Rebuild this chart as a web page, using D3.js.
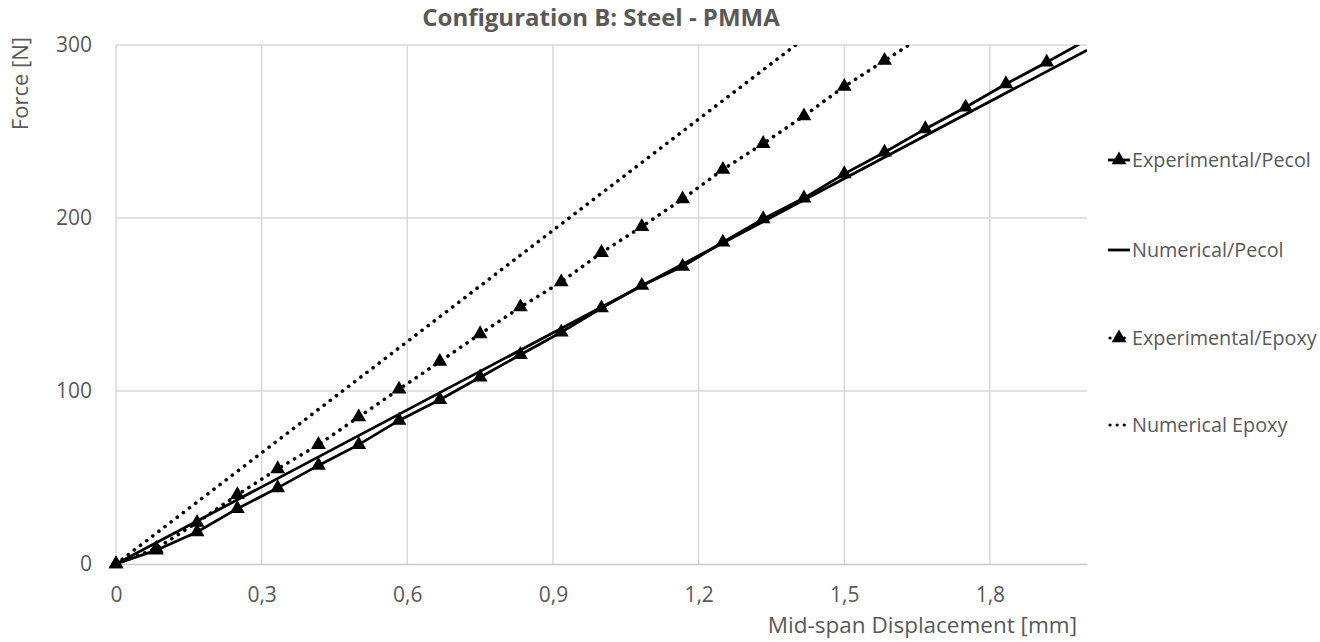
<!DOCTYPE html>
<html>
<head>
	<meta charset="utf-8">
	<script src="https://d3js.org/d3.v7.min.js"></script>
	<style>
		body { margin: 0; background: #fff; }
		text { font-family: "Open Sans", sans-serif; fill: #595959; }
	</style>
</head>
<body>
<div id="graph"></div>
<script>

// displacement steps of the experimental readings [mm]
var xExpPecol = [0, 0.083, 0.167, 0.25, 0.333, 0.417, 0.5, 0.583, 0.667, 0.75, 0.833, 0.917,
                 1.0, 1.083, 1.167, 1.25, 1.333, 1.417, 1.5, 1.583, 1.667, 1.75, 1.833, 1.917, 2.0];
var yExpPecol = [0, 8, 18.5, 32, 44, 57, 69, 83, 95, 108, 121, 134,
                 148, 161, 172, 186, 199.5, 211.5, 225.5, 238, 251.5, 264, 277.5, 290, 303];

var xExpEpoxy = [0, 0.083, 0.167, 0.25, 0.333, 0.417, 0.5, 0.583, 0.667, 0.75, 0.833, 0.917,
                 1.0, 1.083, 1.167, 1.25, 1.333, 1.417, 1.5, 1.583, 1.667];
var yExpEpoxy = [0, 9, 24, 40, 55, 69, 85, 101, 117, 133, 148.5, 163,
                 180, 195, 211, 228, 243, 259, 276, 291, 306];

var xNumPecol = [0, 2.0];
var yNumPecol = [0, 297];

var xNumEpoxy = [0, 1.4];
var yNumEpoxy = [0, 300];

var xTicks = [0, 0.3, 0.6, 0.9, 1.2, 1.5, 1.8];
var yTicks = [0, 100, 200, 300];

var seriesNames = ["Experimental/Pecol", "Numerical/Pecol", "Experimental/Epoxy", "Numerical Epoxy"];

// set the dimensions and margins of the graph
var margin = {top: 45, right: 233, bottom: 78, left: 116},
    width = 1320 - margin.left - margin.right,
    height = 642 - margin.top - margin.bottom;

var root = d3.select("#graph")
  .append("svg")
    .attr("width", 1320)
    .attr("height", 642);

var svg = root.append("g")
    .attr("transform", "translate(" + margin.left + "," + margin.top + ")");

var x = d3.scaleLinear().domain([0, 2.0]).range([0, width]);
var y = d3.scaleLinear().domain([0, 300]).range([height, 0]);

svg.append("clipPath").attr("id", "clip")
  .append("rect")
    .attr("x", -10).attr("y", 0)
    .attr("width", width + 10).attr("height", height + 10);

// gridlines
svg.append("g")
  .selectAll("line.vg")
  .data(xTicks)
  .enter().append("line")
    .attr("x1", function(d) { return x(d); })
    .attr("x2", function(d) { return x(d); })
    .attr("y1", 0).attr("y2", height)
    .style("stroke", "#d9d9d9").style("stroke-width", 1.5);

svg.append("g")
  .selectAll("line.hg")
  .data(yTicks.filter(function(d) { return d > 0; }))
  .enter().append("line")
    .attr("x1", 0).attr("x2", width)
    .attr("y1", function(d) { return y(d); })
    .attr("y2", function(d) { return y(d); })
    .style("stroke", "#d9d9d9").style("stroke-width", 1.5);

// X axis
var xAxis = svg.append("g")
  .attr("transform", "translate(0," + height + ")")
  .call(d3.axisBottom(x).tickValues(xTicks).tickSize(0).tickPadding(23)
    .tickFormat(function(d) { return d === 0 ? "0" : d3.format(".1f")(d).replace(".", ","); }));
xAxis.select(".domain").style("stroke", "#c8c8c8").style("stroke-width", 1.5);
xAxis.selectAll("text").attr("font-size", "21px").style("fill", "#595959");

// Y axis
var yAxis = svg.append("g")
  .call(d3.axisLeft(y).tickValues(yTicks).tickSize(0).tickPadding(24));
yAxis.select(".domain").remove();
yAxis.selectAll("text").attr("font-size", "21px").style("fill", "#595959");

var line = d3.line()
  .x(function(d) { return x(d[0]); })
  .y(function(d) { return y(d[1]); });

function pairs(xs, ys) { return xs.map(function(v, i) { return [v, ys[i]]; }); }

var plot = svg.append("g").attr("clip-path", "url(#clip)");

var dotted = "0.1,7.6";

plot.append("path").datum(pairs(xNumEpoxy, yNumEpoxy))
  .attr("d", line).attr("fill", "none")
  .attr("stroke", "#000").attr("stroke-width", 3.6)
  .attr("stroke-linecap", "round").attr("stroke-dasharray", dotted);

plot.append("path").datum(pairs(xExpEpoxy, yExpEpoxy))
  .attr("d", line).attr("fill", "none")
  .attr("stroke", "#000").attr("stroke-width", 3.6)
  .attr("stroke-linecap", "round").attr("stroke-dasharray", dotted);

plot.append("path").datum(pairs(xNumPecol, yNumPecol))
  .attr("d", line).attr("fill", "none")
  .attr("stroke", "#000").attr("stroke-width", 2.8);

plot.append("path").datum(pairs(xExpPecol, yExpPecol))
  .attr("d", line).attr("fill", "none")
  .attr("stroke", "#000").attr("stroke-width", 2.8);

var tri = d3.symbol().type(d3.symbolTriangle).size(95);

plot.append("g")
  .selectAll("path")
  .data(pairs(xExpEpoxy, yExpEpoxy))
  .enter().append("path")
    .attr("d", tri)
    .attr("transform", function(d) { return "translate(" + x(d[0]) + "," + y(d[1]) + ")"; })
    .attr("fill", "#000");

plot.append("g")
  .selectAll("path")
  .data(pairs(xExpPecol, yExpPecol))
  .enter().append("path")
    .attr("d", tri)
    .attr("transform", function(d) { return "translate(" + x(d[0]) + "," + y(d[1]) + ")"; })
    .attr("fill", "#000");

// title
root.append("text")
  .attr("x", 601).attr("y", 26)
  .attr("font-size", "24px").attr("font-weight", "bold")
  .style("text-anchor", "middle")
  .text("Configuration B: Steel - PMMA");

// axis titles
root.append("text")
  .attr("transform", "translate(28,37) rotate(-90)")
  .attr("font-size", "22px")
  .style("text-anchor", "end")
  .text("Force [N]");

root.append("text")
  .attr("x", 1077).attr("y", 633)
  .attr("font-size", "22.5px")
  .style("text-anchor", "end")
  .text("Mid-span Displacement [mm]");

// legend
var legendY = [160, 250, 338, 425];
var legend = root.append("g");
seriesNames.forEach(function(name, i) {
  var g = legend.append("g").attr("transform", "translate(1108," + legendY[i] + ")");
  var ln = g.append("line").attr("x1", 0).attr("x2", 22).attr("y1", 0).attr("y2", 0)
    .attr("stroke", "#000");
  if (i < 2) {
    ln.attr("stroke-width", 2.8);
  } else {
    ln.attr("x1", 2).attr("stroke-width", 3.2).attr("stroke-linecap", "round").attr("stroke-dasharray", "0.1,7");
  }
  if (i === 0 || i === 2) {
    g.append("path").attr("d", tri).attr("transform", "translate(11,0)").attr("fill", "#000");
  }
  g.append("text").attr("x", 24).attr("y", 7)
    .attr("font-size", "19.8px")
    .text(name);
});

</script>
</body>
</html>
